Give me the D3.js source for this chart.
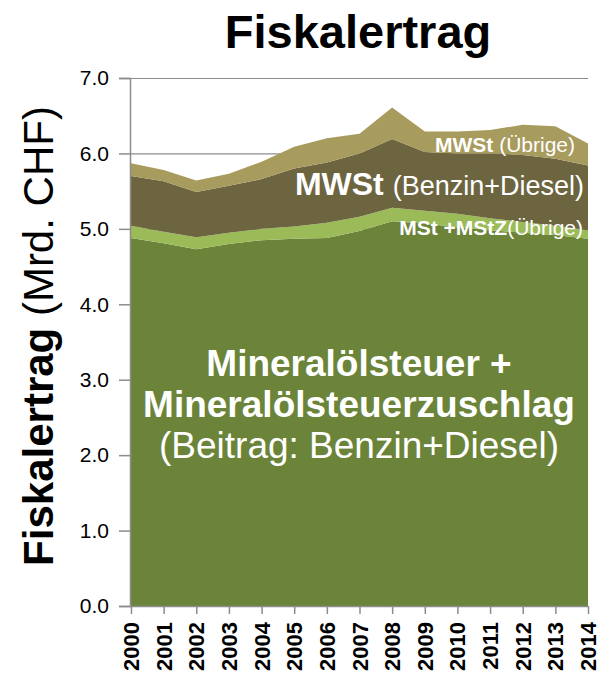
<!DOCTYPE html>
<html>
<head>
<meta charset="utf-8">
<script src="https://cdn.jsdelivr.net/npm/d3@7"></script>
<style>
  html, body { margin: 0; padding: 0; background: #fff; }
  svg { display: block; font-family: "Liberation Sans", Arial, sans-serif; }
</style>
</head>
<body>
<svg id="chart" width="598" height="681"></svg>
<script>
const years = [2000,2001,2002,2003,2004,2005,2006,2007,2008,2009,2010,2011,2012,2013,2014];
const mstMain   = [4.88,4.81,4.73,4.80,4.85,4.87,4.88,4.97,5.10,5.07,5.02,4.98,4.95,4.92,4.87];
const mstOther  = [0.16,0.15,0.16,0.15,0.15,0.16,0.20,0.19,0.18,0.17,0.18,0.16,0.14,0.12,0.11];
const mwstFuel  = [0.66,0.67,0.60,0.62,0.66,0.77,0.80,0.84,0.91,0.78,0.80,0.86,0.89,0.89,0.86];
const mwstOther = [0.17,0.15,0.15,0.16,0.23,0.29,0.32,0.26,0.42,0.27,0.29,0.31,0.40,0.43,0.29];
const yTicks = [0,1,2,3,4,5,6,7];
const seriesKeys = ["mstMain","mstOther","mwstFuel","mwstOther"];
const seriesColors = ["#6b8439","#9bbb59","#6d6540","#a89b5e"];

const rows = years.map((y,i) => ({year:y, mstMain:mstMain[i], mstOther:mstOther[i], mwstFuel:mwstFuel[i], mwstOther:mwstOther[i]}));
const stacked = d3.stack().keys(seriesKeys)(rows);

const svg = d3.select("#chart");
const x = d3.scaleLinear().domain([2000,2014]).range([131,588]);
const y = d3.scaleLinear().domain([0,7]).range([606,78]);

// gridlines
svg.append("g").selectAll("line").data(yTicks.filter(t=>t>0)).join("line")
  .attr("x1",130).attr("x2",588).attr("y1",d=>y(d)+0.5).attr("y2",d=>y(d)+0.5)
  .attr("stroke","#8c8c8c").attr("stroke-width",1.2);

// areas
const area = d3.area().x(d=>x(d.data.year)).y0(d=>y(d[0])).y1(d=>y(d[1]));
svg.append("g").selectAll("path").data(stacked).join("path")
  .attr("d",area).attr("fill",(d,i)=>seriesColors[i]);

// y axis
const yAxis = d3.axisLeft(y).tickValues(yTicks).tickFormat(d3.format(".1f")).tickSize(11).tickPadding(10);
const gy = svg.append("g").attr("transform","translate(130,0)").call(yAxis);
gy.select(".domain").attr("stroke","#8c8c8c").attr("stroke-width",1.5);
gy.selectAll(".tick line").attr("stroke","#8c8c8c").attr("stroke-width",1.5);
gy.selectAll(".tick text").attr("font-size","21px").attr("fill","#000").attr("font-family","Liberation Sans, Arial");

// x axis
const xAxis = d3.axisBottom(x).tickValues(years).tickFormat(d3.format("d")).tickSize(8).tickPadding(8);
const gx = svg.append("g").attr("transform","translate(0,606)").call(xAxis);
gx.select(".domain").attr("stroke","#8c8c8c").attr("stroke-width",1.5).attr("d","M130,0.5H588");
gx.selectAll(".tick line").attr("stroke","#8c8c8c").attr("stroke-width",1.5);
gx.selectAll(".tick text")
  .attr("font-size","22px").attr("font-weight","bold").attr("fill","#000")
  .attr("font-family","Liberation Sans, Arial")
  .attr("text-anchor","end").attr("dy",null)
  .attr("transform","translate(7.5,16) rotate(-90)")
  .attr("x",0).attr("y",0);

// title
svg.append("text").attr("x",358).attr("y",48).attr("text-anchor","middle")
  .attr("font-size","47px").attr("font-weight","bold").text("Fiskalertrag");

// y label
const yl = svg.append("text").attr("transform","translate(53,336) rotate(-90)")
  .attr("text-anchor","middle").attr("font-size","42px");
yl.append("tspan").attr("font-weight","bold").text("Fiskalertrag ");
yl.append("tspan").text("(Mrd. CHF)");

// in-area labels
const t1 = svg.append("text").attr("x",575).attr("y",152).attr("text-anchor","end").attr("fill","#fff").attr("font-size","21px");
t1.append("tspan").attr("font-weight","bold").text("MWSt ");
t1.append("tspan").text("(Übrige)");

const t2 = svg.append("text").attr("x",584).attr("y",195).attr("text-anchor","end").attr("fill","#fff");
t2.append("tspan").attr("font-weight","bold").attr("font-size","32px").text("MWSt ");
t2.append("tspan").attr("font-size","27px").text("(Benzin+Diesel)");

const t3 = svg.append("text").attr("x",583).attr("y",235).attr("text-anchor","end").attr("fill","#fff").attr("font-size","21px");
t3.append("tspan").attr("font-weight","bold").text("MSt +MStZ");
t3.append("tspan").text("(Übrige)");

const mainLines = [
  {text:"Mineralölsteuer +", bold:true, size:37, yy:376},
  {text:"Mineralölsteuerzuschlag", bold:true, size:37, yy:417},
  {text:"(Beitrag: Benzin+Diesel)", bold:false, size:37, yy:458}
];
svg.append("g").selectAll("text").data(mainLines).join("text")
  .attr("x",359).attr("y",d=>d.yy).attr("text-anchor","middle").attr("fill","#fff")
  .attr("font-size",d=>d.size+"px").attr("font-weight",d=>d.bold?"bold":"normal")
  .text(d=>d.text);
</script>
</body>
</html>
